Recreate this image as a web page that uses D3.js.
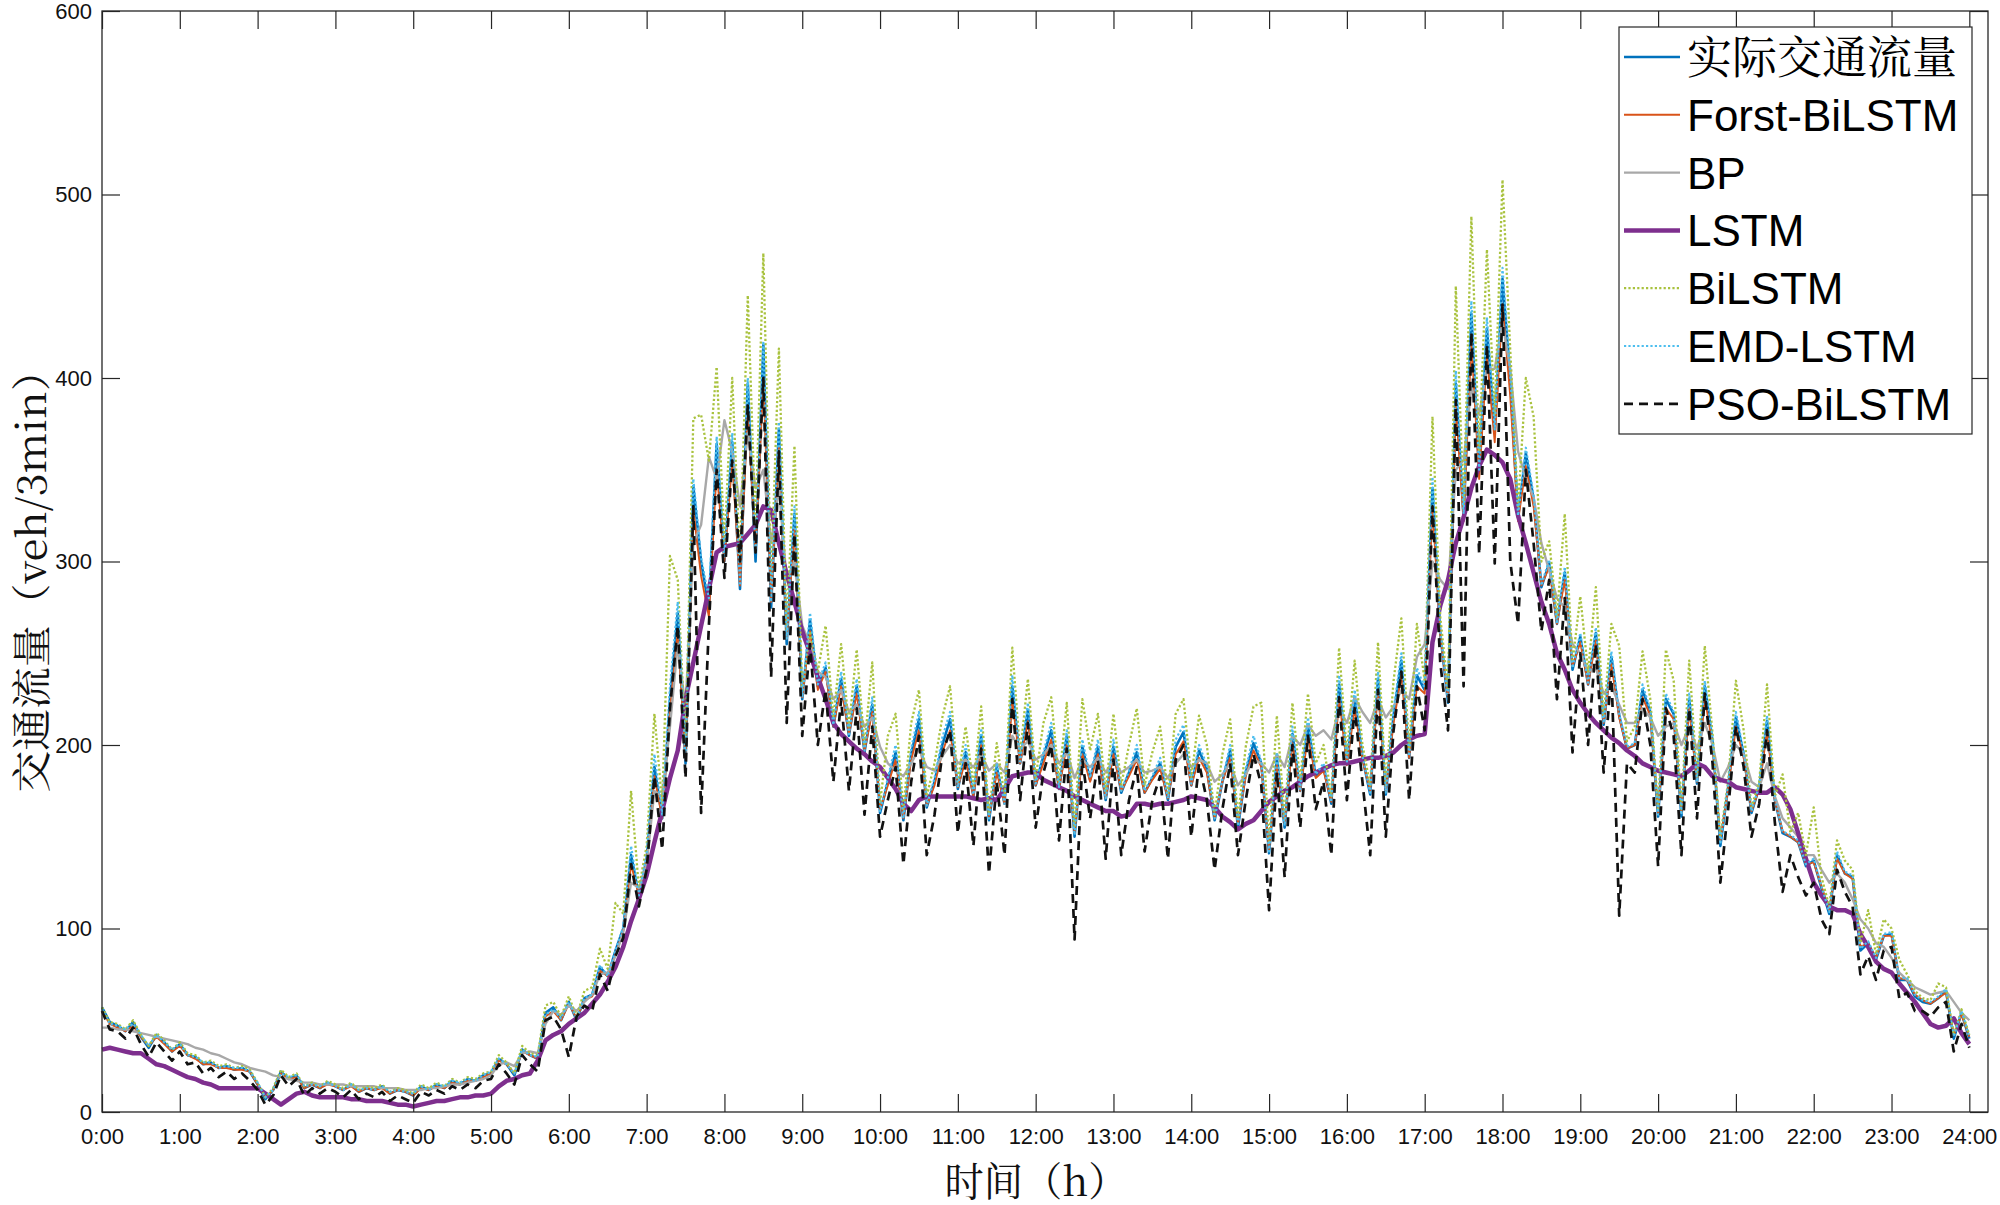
<!DOCTYPE html>
<html>
<head>
<meta charset="utf-8">
<script src="https://cdn.jsdelivr.net/npm/d3@7"></script>
<style>
  body { margin: 0; background: #fff; }
  svg { display: block; }
</style>
</head>
<body>
<div id="chart"></div>
<script>
// x tick labels, one per hour
var hourLabels = ["0:00", "1:00", "2:00", "3:00", "4:00", "5:00", "6:00", "7:00", "8:00", "9:00", "10:00", "11:00",
    "12:00", "13:00", "14:00", "15:00", "16:00", "17:00", "18:00", "19:00", "20:00", "21:00", "22:00", "23:00", "24:00"];
var yTicks = [0, 100, 200, 300, 400, 500, 600];

var seriesNames = ["实际交通流量", "Forst-BiLSTM", "BP", "LSTM", "BiLSTM", "EMD-LSTM", "PSO-BiLSTM"];

// one value every 6 minutes, 0:00 .. 24:00 (10 values per row = one hour)
var actualFlow = [
    57, 49, 47, 44, 49, 41, 35, 42, 38, 33,
    37, 31, 30, 26, 27, 24, 25, 23, 24, 22,
    15, 7, 12, 22, 18, 20, 13, 15, 13, 16,
    14, 12, 15, 11, 13, 12, 14, 10, 12, 11,
    9, 14, 12, 15, 13, 17, 15, 18, 17, 20,
    21, 29, 26, 20, 34, 31, 29, 54, 57, 50,
    60, 50, 62, 64, 79, 74, 88, 100, 140, 118,
    138, 188, 160, 225, 272, 190, 341, 300, 275, 364,
    300, 365, 285, 397, 300, 418, 275, 372, 255, 326,
    225, 268, 232, 242, 210, 236, 205, 232, 196, 222,
    163, 180, 196, 159, 195, 214, 166, 180, 200, 214,
    176, 196, 172, 205, 159, 188, 168, 232, 190, 219,
    178, 194, 208, 176, 205, 150, 199, 181, 199, 170,
    199, 174, 185, 196, 174, 182, 190, 170, 199, 207,
    178, 197, 187, 159, 180, 197, 155, 185, 201, 190,
    141, 193, 155, 206, 175, 211, 183, 188, 168, 233,
    190, 226, 193, 173, 236, 173, 216, 246, 193, 238,
    230, 340, 261, 223, 397, 324, 435, 349, 427, 371,
    454, 399, 324, 359, 334, 286, 299, 266, 294, 241,
    259, 233, 261, 211, 248, 216, 198, 200, 230, 218,
    161, 225, 217, 161, 225, 179, 232, 202, 145, 177,
    215, 195, 163, 177, 213, 170, 152, 150, 147, 134,
    137, 122, 108, 140, 130, 128, 88, 92, 83, 96,
    97, 72, 72, 63, 60, 59, 62, 66, 40, 54,
    40
];

var forstBiLstm = [
    55, 48, 46, 44, 47, 41, 36, 41, 37, 33,
    36, 31, 29, 26, 26, 24, 24, 23, 23, 22,
    15, 8, 12, 21, 18, 19, 13, 15, 13, 15,
    14, 12, 14, 11, 13, 12, 13, 10, 12, 11,
    9, 13, 12, 14, 13, 16, 15, 17, 17, 19,
    21, 28, 26, 21, 33, 31, 29, 52, 55, 50,
    59, 51, 61, 63, 77, 74, 86, 99, 135, 118,
    137, 183, 160, 220, 262, 192, 328, 292, 270, 350,
    300, 355, 287, 383, 305, 400, 278, 362, 258, 318,
    226, 262, 230, 240, 210, 232, 206, 228, 197, 218,
    165, 178, 192, 160, 192, 208, 167, 178, 196, 208,
    177, 192, 172, 200, 161, 185, 168, 224, 190, 213,
    178, 190, 203, 176, 200, 152, 195, 180, 195, 171,
    195, 175, 183, 192, 174, 181, 187, 171, 195, 202,
    178, 193, 185, 160, 180, 193, 157, 183, 197, 188,
    143, 189, 157, 201, 175, 205, 182, 186, 169, 226,
    189, 220, 192, 175, 230, 175, 212, 238, 193, 232,
    228, 330, 260, 225, 385, 322, 420, 345, 412, 365,
    440, 390, 322, 352, 330, 287, 297, 266, 290, 243,
    256, 233, 257, 212, 244, 215, 198, 200, 226, 216,
    163, 220, 214, 163, 220, 180, 226, 200, 148, 176,
    210, 193, 164, 176, 208, 170, 153, 150, 147, 135,
    136, 123, 110, 138, 130, 127, 90, 92, 84, 96,
    96, 73, 72, 64, 61, 59, 62, 65, 42, 53,
    41
];

var bpPred = [
    46, 46, 45, 45, 44, 43, 42, 41, 40, 39,
    38, 37, 35, 34, 32, 31, 29, 27, 26, 24,
    23, 22, 20, 19, 18, 17, 16, 16, 15, 15,
    15, 15, 14, 14, 14, 14, 13, 13, 13, 12,
    12, 12, 13, 13, 14, 15, 15, 16, 17, 18,
    20, 26, 27, 25, 32, 33, 32, 48, 55, 53,
    58, 55, 60, 64, 75, 76, 85, 98, 125, 122,
    135, 175, 172, 210, 255, 220, 310, 320, 357, 345,
    377, 360, 330, 370, 340, 350, 310, 340, 290, 300,
    265, 255, 240, 237, 225, 230, 218, 222, 210, 215,
    199, 190, 186, 183, 190, 198, 188, 186, 194, 200,
    190, 192, 188, 195, 186, 190, 185, 205, 198, 202,
    192, 195, 200, 190, 196, 182, 192, 188, 193, 185,
    192, 185, 188, 192, 185, 186, 188, 182, 190, 195,
    188, 192, 190, 180, 184, 190, 178, 184, 192, 190,
    185, 195, 188, 205, 200, 211, 205, 208, 203, 220,
    212, 226, 218, 212, 225, 215, 221, 230, 225, 248,
    255, 300, 290, 285, 350, 355, 395, 380, 405, 405,
    430, 405, 360, 345, 335, 310, 295, 280, 275, 255,
    250, 240, 242, 228, 232, 222, 212, 212, 220, 215,
    205, 210, 212, 200, 210, 198, 212, 200, 180, 188,
    200, 195, 180, 177, 190, 172, 160, 155, 150, 140,
    140, 132, 125, 130, 125, 116, 105, 100, 92, 90,
    84, 76, 72, 68, 66, 64, 65, 66, 60, 54,
    50
];

var lstmPred = [
    34, 35, 34, 33, 32, 32, 29, 26, 25, 23,
    21, 19, 18, 16, 15, 13, 13, 13, 13, 13,
    13, 10, 7, 4, 7, 10, 11, 9, 8, 8,
    8, 8, 7, 7, 6, 6, 6, 5, 4, 4,
    3, 4, 5, 6, 6, 7, 8, 8, 9, 9,
    10, 14, 17, 18, 20, 21, 28, 39, 42, 44,
    48, 51, 54, 59, 64, 71, 79, 90, 104, 116,
    129, 147, 164, 182, 197, 225, 245, 265, 285, 305,
    308, 309, 310, 315, 320, 330, 328, 310, 293, 278,
    262, 250, 237, 225, 212, 206, 202, 198, 195, 191,
    188, 182, 176, 168, 164, 170, 172, 172, 172, 172,
    172, 172, 171, 170, 171, 170, 176, 183, 184, 185,
    185, 181, 179, 177, 175, 172, 170, 168, 166, 164,
    164, 161, 162, 168, 168, 167, 168, 168, 169, 170,
    172, 171, 170, 166, 161, 158, 154, 157, 159, 164,
    169, 172, 175, 177, 180, 183, 185, 187, 189, 190,
    190, 191, 192, 193, 193, 194, 196, 200, 203, 205,
    206, 256, 276, 290, 310, 324, 340, 352, 361, 358,
    354, 345, 325, 310, 294, 278, 266, 250, 241, 230,
    223, 217, 212, 208, 204, 201, 197, 194, 190, 188,
    186, 185, 184, 183, 186, 190, 188, 183, 181, 180,
    177, 176, 175, 174, 174, 177, 173, 165, 152, 138,
    125, 118, 112, 110, 110, 108, 97, 90, 82, 78,
    76, 70, 65, 60, 54, 48, 46, 47, 51, 43,
    37
];

var biLstmPred = [
    57, 49, 48, 45, 50, 42, 36, 43, 39, 34,
    38, 32, 31, 27, 28, 25, 26, 24, 25, 23,
    16, 8, 13, 23, 19, 21, 14, 16, 14, 17,
    15, 13, 16, 12, 14, 13, 15, 11, 13, 12,
    10, 15, 13, 16, 14, 18, 16, 19, 18, 21,
    22, 31, 27, 21, 36, 32, 31, 58, 60, 52,
    63, 52, 66, 68, 89, 78, 114, 108, 175, 122,
    145, 217, 168, 303, 290, 200, 378, 380, 355, 406,
    310, 400, 300, 445, 320, 468, 290, 416, 262, 363,
    230, 262, 240, 265, 215, 255, 210, 252, 200, 245,
    168, 205, 217, 165, 212, 230, 172, 190, 215, 232,
    180, 210, 178, 221, 162, 201, 172, 253, 195, 236,
    182, 212, 226, 180, 223, 155, 225, 197, 217, 175,
    217, 178, 200, 220, 178, 196, 210, 173, 217, 225,
    182, 216, 200, 162, 195, 214, 160, 199, 221, 223,
    146, 216, 160, 223, 180, 228, 190, 200, 172, 253,
    195, 246, 200, 178, 256, 178, 235, 269, 198, 266,
    235, 379, 270, 230, 450, 330, 488, 360, 470, 380,
    508, 415, 330, 400, 379, 300, 311, 270, 326, 245,
    281, 240, 286, 215, 266, 254, 202, 210, 251, 225,
    165, 252, 235, 165, 246, 182, 254, 206, 150, 180,
    235, 208, 166, 180, 233, 172, 184, 152, 163, 140,
    166, 128, 112, 148, 137, 132, 92, 110, 86, 105,
    100, 83, 75, 66, 62, 61, 70, 68, 42, 56,
    42
];

var emdLstmPred = [
    56, 48, 47, 45, 48, 42, 36, 42, 38, 34,
    37, 31, 30, 27, 27, 24, 25, 24, 24, 22,
    16, 8, 12, 21, 19, 20, 14, 15, 14, 16,
    14, 12, 15, 12, 13, 12, 14, 11, 12, 11,
    10, 14, 12, 15, 14, 17, 16, 18, 17, 20,
    22, 29, 26, 21, 34, 31, 30, 53, 56, 51,
    60, 51, 62, 64, 80, 74, 88, 101, 145, 118,
    140, 195, 162, 232, 278, 193, 345, 302, 280, 368,
    302, 370, 288, 400, 305, 420, 278, 376, 258, 330,
    226, 272, 233, 245, 211, 240, 206, 236, 197, 226,
    164, 182, 200, 160, 198, 218, 167, 182, 204, 218,
    177, 200, 173, 209, 160, 190, 168, 238, 191, 223,
    179, 196, 212, 177, 208, 151, 203, 182, 203, 171,
    203, 175, 186, 200, 175, 183, 193, 171, 203, 211,
    179, 200, 189, 160, 181, 200, 156, 187, 205, 191,
    142, 196, 156, 210, 176, 215, 184, 190, 169, 238,
    191, 230, 194, 174, 240, 174, 219, 250, 194, 242,
    231, 346, 262, 224, 404, 326, 442, 350, 433, 372,
    460, 402, 325, 362, 336, 287, 301, 267, 297, 242,
    261, 234, 264, 212, 251, 217, 199, 201, 233, 219,
    162, 228, 218, 162, 228, 180, 235, 203, 146, 178,
    218, 196, 164, 178, 216, 171, 153, 151, 148, 135,
    138, 123, 109, 142, 131, 129, 89, 93, 84, 97,
    98, 73, 73, 64, 61, 60, 63, 67, 41, 55,
    41
];

var psoBiLstmPred = [
    55, 45, 44, 40, 46, 37, 30, 38, 33, 28,
    33, 26, 27, 21, 24, 19, 22, 18, 21, 17,
    12, 4, 9, 20, 14, 18, 9, 13, 10, 13,
    11, 8, 12, 7, 10, 8, 11, 6, 9, 7,
    5, 11, 9, 12, 10, 14, 12, 15, 13, 17,
    18, 26, 21, 15, 31, 26, 22, 50, 52, 45,
    30, 52, 58, 55, 75, 66, 85, 95, 135, 112,
    132, 183, 143, 220, 265, 182, 330, 163, 265, 350,
    291, 355, 300, 385, 305, 400, 237, 360, 212, 315,
    205, 255, 200, 230, 180, 225, 175, 220, 162, 210,
    150, 170, 188, 135, 180, 205, 140, 162, 195, 208,
    152, 190, 145, 198, 130, 180, 140, 225, 170, 212,
    155, 185, 200, 148, 198, 94, 192, 160, 192, 138,
    192, 140, 170, 188, 142, 170, 183, 138, 192, 200,
    150, 190, 170, 132, 165, 190, 140, 170, 195, 178,
    110, 185, 128, 200, 155, 205, 165, 180, 140, 226,
    170, 220, 180, 140, 230, 150, 208, 240, 170, 232,
    208, 330, 245, 208, 388, 232, 425, 304, 418, 299,
    440, 300, 266, 350, 310, 262, 290, 225, 280, 196,
    250, 200, 255, 185, 240, 107, 190, 185, 225, 200,
    134, 220, 205, 140, 220, 160, 228, 190, 125, 165,
    210, 188, 150, 168, 208, 158, 120, 140, 128, 118,
    125, 105, 97, 132, 120, 112, 75, 85, 72, 88,
    90, 62, 65, 55, 55, 52, 57, 60, 33, 48,
    35
];

// Styles for each series (same order as the legend)
var seriesStyles = [
    { values: actualFlow,    color: "#0072BD", width: 2.6, dash: null },
    { values: forstBiLstm,   color: "#D95319", width: 1.9, dash: null },
    { values: bpPred,        color: "#A8A8A8", width: 2.4, dash: null },
    { values: lstmPred,      color: "#7E2F8E", width: 4.5, dash: null },
    { values: biLstmPred,    color: "#A9C23E", width: 2.3, dash: "2.2,2.2" },
    { values: emdLstmPred,   color: "#4DBEEE", width: 2.2, dash: "2.2,2.2" },
    { values: psoBiLstmPred, color: "#111111", width: 2.7, dash: "9,6" }
];

// Chart size and plot box
var width = 2000, height = 1205;
var plot = { left: 102, right: 1988, top: 11, bottom: 1112 };
var tickFont = "'Liberation Sans', Arial, sans-serif";
var cjkFont = "'Noto Serif CJK SC', 'Noto Sans CJK SC', sans-serif";
var frameColor = "#262626";

var x = d3.scaleLinear().domain([0, 24.24]).range([plot.left, plot.right]);
var y = d3.scaleLinear().domain([0, 600]).range([plot.bottom, plot.top]);

var svg = d3.select("#chart").append("svg")
    .attr("width", width)
    .attr("height", height)
    .style("background", "#fff");

// Lines (each point is 6 minutes apart)
var line = d3.line()
    .x((d, i) => x(i / 10))
    .y(d => y(d));

seriesStyles.forEach(function (s) {
    svg.append("path")
        .datum(s.values)
        .attr("fill", "none")
        .attr("stroke", s.color)
        .attr("stroke-width", s.width)
        .attr("stroke-dasharray", s.dash)
        .attr("stroke-linejoin", "round")
        .attr("d", line);
});

// Axes, ticks pointing into the plot like matlab
var hourTicks = hourLabels.map((d, i) => i);

var xAxis = svg.append("g")
    .attr("transform", `translate(0, ${plot.bottom})`)
    .call(d3.axisBottom(x).tickValues(hourTicks).tickFormat((d, i) => hourLabels[i])
        .tickSizeInner(-18).tickSizeOuter(0).tickPadding(16));

var xAxisTop = svg.append("g")
    .attr("transform", `translate(0, ${plot.top})`)
    .call(d3.axisTop(x).tickValues(hourTicks).tickFormat("")
        .tickSizeInner(-18).tickSizeOuter(0));

var yAxis = svg.append("g")
    .attr("transform", `translate(${plot.left}, 0)`)
    .call(d3.axisLeft(y).tickValues(yTicks).tickFormat(d3.format("d"))
        .tickSizeInner(-18).tickSizeOuter(0).tickPadding(10));

var yAxisRight = svg.append("g")
    .attr("transform", `translate(${plot.right}, 0)`)
    .call(d3.axisRight(y).tickValues(yTicks).tickFormat("")
        .tickSizeInner(-18).tickSizeOuter(0));

[xAxis, xAxisTop, yAxis, yAxisRight].forEach(function (g) {
    g.select(".domain").remove();
    g.selectAll("line").attr("stroke", frameColor).attr("stroke-width", 1.2);
    g.selectAll("text")
        .attr("fill", "#111")
        .style("font-family", tickFont)
        .style("font-size", "22px");
});

// Box around the plot
svg.append("rect")
    .attr("x", plot.left)
    .attr("y", plot.top)
    .attr("width", plot.right - plot.left)
    .attr("height", plot.bottom - plot.top)
    .attr("fill", "none")
    .attr("stroke", frameColor)
    .attr("stroke-width", 1.3);

// Axis titles
svg.append("text")
    .attr("x", 1036)
    .attr("y", 1178)
    .attr("text-anchor", "middle")
    .attr("dominant-baseline", "central")
    .attr("textLength", 183)
    .attr("lengthAdjust", "spacingAndGlyphs")
    .style("font-family", cjkFont)
    .style("font-size", "40px")
    .attr("fill", "#111")
    .text("时间（h）");

svg.append("text")
    .attr("transform", "translate(28, 571) rotate(-90)")
    .attr("text-anchor", "middle")
    .attr("dominant-baseline", "central")
    .attr("textLength", 443)
    .attr("lengthAdjust", "spacingAndGlyphs")
    .style("font-family", cjkFont)
    .style("font-size", "40px")
    .attr("fill", "#111")
    .text("交通流量（veh/3min）");

// Legend
var legend = svg.append("g");
legend.append("rect")
    .attr("x", 1619)
    .attr("y", 27)
    .attr("width", 353)
    .attr("height", 407)
    .attr("fill", "#fff")
    .attr("stroke", frameColor)
    .attr("stroke-width", 1.2);

seriesNames.forEach(function (name, i) {
    var s = seriesStyles[i];
    var cy = 57 + i * 57.8;
    legend.append("line")
        .attr("x1", 1624)
        .attr("x2", 1680)
        .attr("y1", cy)
        .attr("y2", cy)
        .attr("stroke", s.color)
        .attr("stroke-width", s.width)
        .attr("stroke-dasharray", s.dash);
    legend.append("text")
        .attr("x", 1687)
        .attr("y", cy + (i == 0 ? 17 : 16))
        .style("font-family", i == 0 ? cjkFont : tickFont)
        .style("font-size", i == 0 ? "45px" : "44px")
        .attr("fill", "#000")
        .text(name);
});
</script>
</body>
</html>
